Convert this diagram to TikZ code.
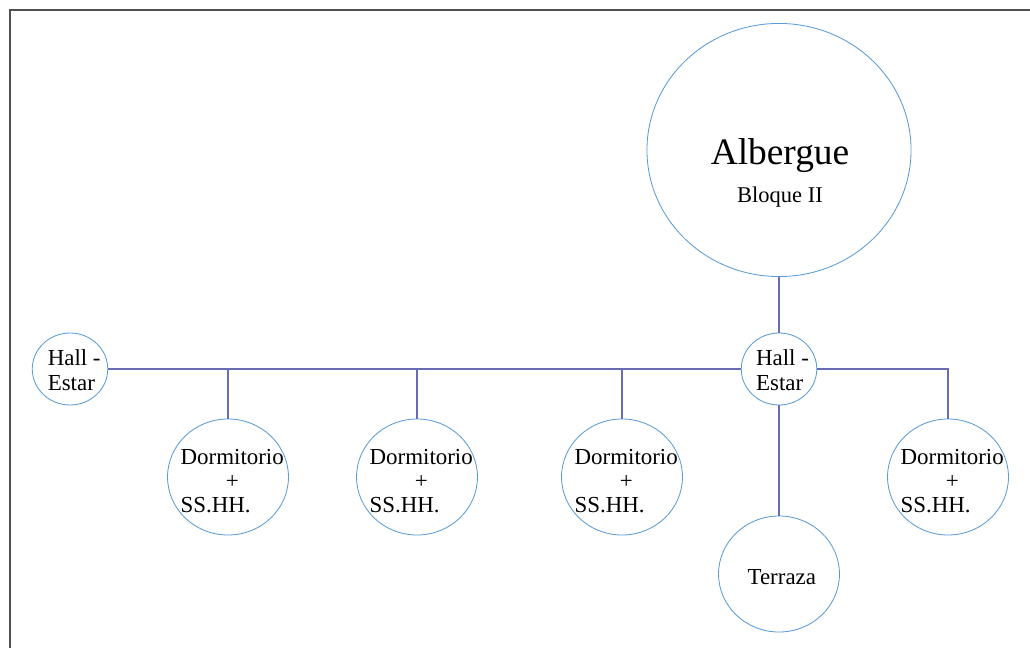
\documentclass[tikz,border=0pt]{standalone}
\usepackage{fontspec}
\setmainfont{Liberation Serif}
\usetikzlibrary{shapes.geometric}
\definecolor{ringblue}{RGB}{91,155,213}
\definecolor{linkblue}{RGB}{104,108,180}
\definecolor{framegray}{RGB}{80,80,80}
\newcommand{\dormlabel}{\makebox[0pt]{\hspace*{6pt}\raisebox{-9pt}[0pt][0pt]{%
  \begin{tabular}{@{}l@{}}Dormitorio\\\multicolumn{1}{@{}c@{}}{+}\\SS.HH.\end{tabular}}}}
\newcommand{\hallabel}[1]{\makebox[0pt]{\hspace*{#1}\raisebox{-7pt}[0pt][0pt]{%
  \begin{tabular}{@{}l@{}}Hall -\\Estar\end{tabular}}}}

\begin{document}
\begin{tikzpicture}[x=0.025cm,y=-0.025cm,
  ring/.style={draw=ringblue,line width=0.6pt,ellipse,inner sep=0pt},
  small/.style={ring,minimum width=53.7pt,minimum height=51.2pt,
    font=\fontsize{16.3}{17.6}\selectfont},
  room/.style={ring,minimum width=86pt,minimum height=82.5pt,
    font=\fontsize{16.3}{17.4}\selectfont},
  link/.style={draw=linkblue,line width=0.9pt}]
\useasboundingbox (0,0) rectangle (1030,648);
\draw[framegray,line width=1pt] (10,648)--(10,10)--(1030,10);
%\def\r{60}
\path
(779,150) node[ring,minimum width=187.8pt,minimum height=180pt] (alb) {}
(780,173) node[align=center] (albtxt) {{\fontsize{26.6}{30}\selectfont Albergue}\\[9pt]
  {\fontsize{16}{19}\selectfont Bloque II}}
(70,369) node[small] (hallA) {\hallabel{6pt}}
(779,369) node[small] (hallB) {\hallabel{5pt}}
(228,477) node[room] (dorm-1) {\dormlabel}
(417,477) node[room] (dorm-2) {\dormlabel}
(622,477) node[room] (dorm-3) {\dormlabel}
(948,477) node[room] (dorm-4) {\dormlabel}
(779,574) node[room] (terr) {\makebox[0pt]{\hspace*{4pt}\raisebox{-7.5pt}[0pt][0pt]{Terraza}}};
\draw[link] (alb)--(hallB);
\draw[link] (hallA)--(hallB);
\draw[link] (hallB)--(terr);
\draw[link] (hallB)-|(dorm-4);
\foreach \k in {1,2,3}
  \draw[link] (dorm-\k |- hallA)--(dorm-\k);
\end{tikzpicture}
\end{document}
